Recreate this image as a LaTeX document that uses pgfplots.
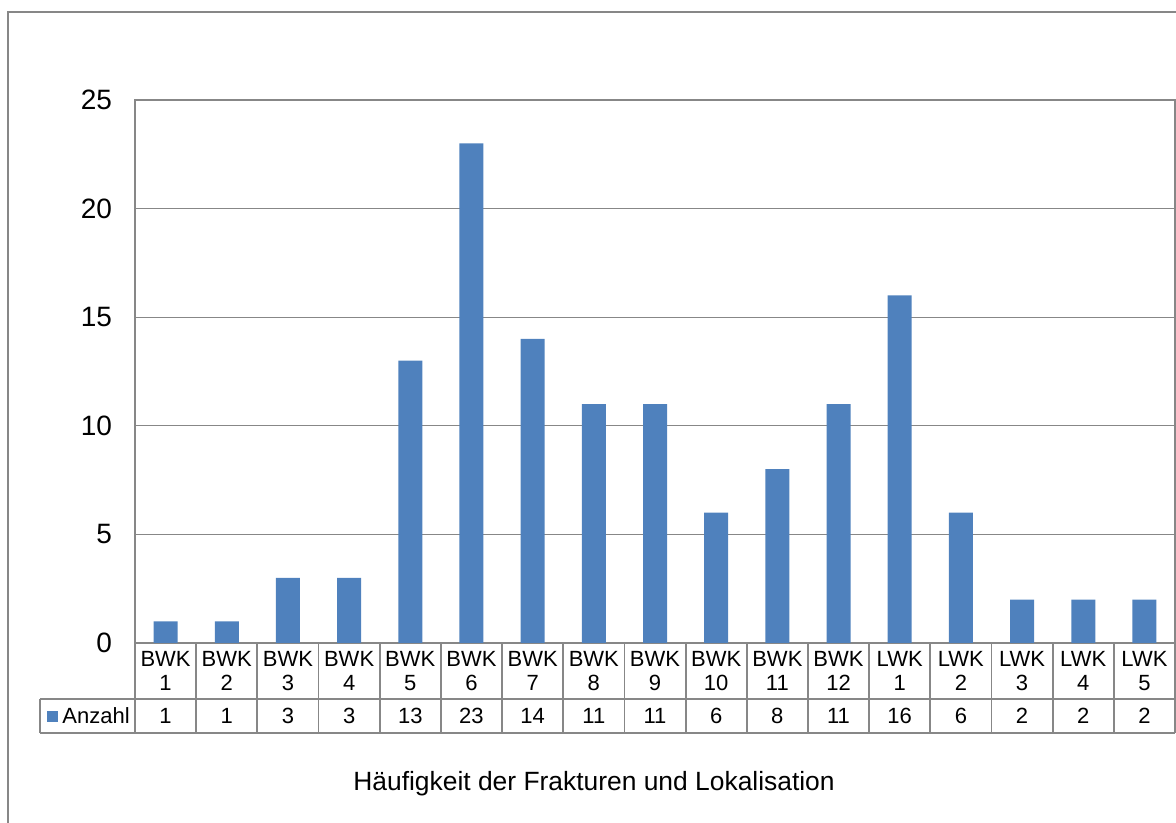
\documentclass[border=0pt]{standalone}
\usepackage{fontspec}
\setmainfont{Liberation Sans}
\usepackage{pgfplots}
\pgfplotsset{compat=1.18}
\definecolor{barblue}{HTML}{4F81BD}
\definecolor{framegray}{HTML}{878787}
\begin{document}
\begin{tikzpicture}[x=1pt,y=1pt]
\useasboundingbox (0,0) rectangle (588,411.5);
\begin{scope}
\clip (0,0) rectangle (588,411.5);
\draw[framegray, line width=0.8pt] (4,-10) -- (4,405.5) -- (600,405.5);
\end{scope}
\begin{axis}[
  at={(67.5pt,90pt)}, anchor=south west,
  scale only axis, width=520pt, height=271.5pt,
  xmin=-0.5, xmax=16.5, ymin=0, ymax=25,
  ytick={0,5,...,25},
  ymajorgrids, grid style={framegray, line width=0.6pt},
  axis line style={framegray, line width=0.8pt},
  major tick length=0pt,
  yticklabel style={font=\fontsize{14pt}{16pt}\selectfont, xshift=-8pt},
  /pgf/number format/assume math mode=true,
  xtick={0,...,16},
  xticklabels={BWK\\1,BWK\\2,BWK\\3,BWK\\4,BWK\\5,BWK\\6,BWK\\7,BWK\\8,BWK\\9,BWK\\10,BWK\\11,BWK\\12,LWK\\1,LWK\\2,LWK\\3,LWK\\4,LWK\\5},
  xticklabel style={align=center, anchor=center, yshift=-14pt, font=\fontsize{11pt}{11.8pt}\selectfont},
  clip=false,
]
\addplot[ybar, bar width=12pt, fill=barblue, draw=none] coordinates {
(0,1) (1,1) (2,3) (3,3) (4,13) (5,23) (6,14) (7,11) (8,11) (9,6) (10,8) (11,11) (12,16) (13,6) (14,2) (15,2) (16,2)};
\end{axis}
% data table
\begin{scope}[framegray, line width=0.9pt]
\draw (20,62) -- (587.5,62);
\draw (20,45) -- (587.5,45);
\draw (20,62) -- (20,45);
\foreach \i in {0,...,17} {
  \draw ({67.5+\i*520/17},90) -- ({67.5+\i*520/17},45);
}
\end{scope}
\fill[barblue] (23.5,50.5) rectangle (29,56);
\node[anchor=west, inner sep=0pt, font=\fontsize{11pt}{12pt}\selectfont] at (31,53.5) {Anzahl};
\foreach \v [count=\i from 0] in {1,1,3,3,13,23,14,11,11,6,8,11,16,6,2,2,2} {
  \node[font=\fontsize{11pt}{12pt}\selectfont, inner sep=0pt] at ({67.5+(\i+0.5)*520/17},53.5) {\v};
}
\node[font=\fontsize{13.2pt}{15pt}\selectfont] at (297,19.5) {Häufigkeit der Frakturen und Lokalisation};
\end{tikzpicture}
\end{document}
